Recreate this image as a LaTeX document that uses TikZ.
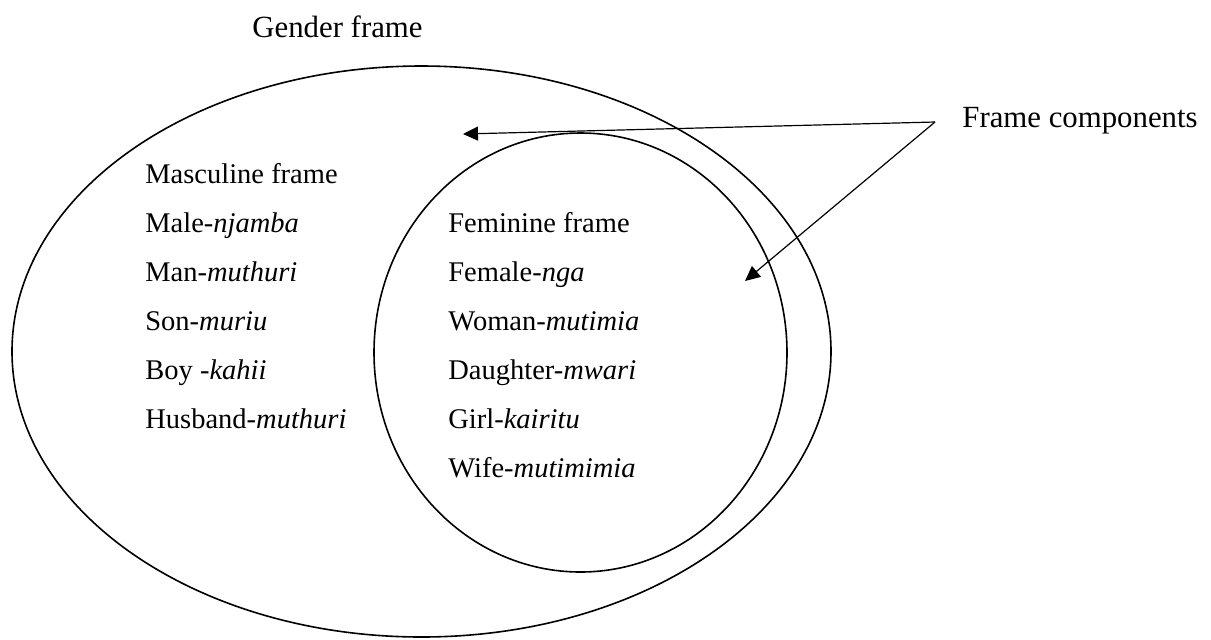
\documentclass[tikz,border=0pt]{standalone}
\usepackage{fontspec}
\setmainfont{Liberation Serif}
\usetikzlibrary{shapes.geometric,arrows.meta}
\begin{document}
\begin{tikzpicture}[x=0.5pt,y=-0.5pt,
  frame/.style={draw,ellipse,inner sep=0pt,line width=0.8pt},
  term/.style={anchor=base west,inner sep=0pt,font=\fontsize{14.25}{17}\selectfont},
  heading/.style={anchor=base west,inner sep=0pt,font=\fontsize{15.4}{18}\selectfont},
  pointer/.style={line width=0.6pt,-{Triangle[length=7.5pt,width=7pt]}}]
\useasboundingbox (0,0) rectangle (1211,639);

% the two frames
\node[frame,minimum width=409.5pt,minimum height=285.5pt] (gender) at (421.5,351.5) {};
\node[frame,minimum width=206.5pt,minimum height=219.5pt] (feminine) at (580.5,352.5) {};

% titles
\node[heading] (gtitle) at (252,37) {Gender frame};
\node[heading] (ctitle) at (962,127) {Frame components};

% masculine side
\node[term] (m0) at (145,183) {Masculine frame};
\node[term] (m1) at (145,232) {Male-\textit{njamba}};
\node[term] (m2) at (145,281) {Man-\textit{muthuri}};
\node[term] (m3) at (145,330) {Son-\textit{muriu}};
\node[term] (m4) at (145,379) {Boy -\textit{kahii}};
\node[term] (m5) at (145,428) {Husband-\textit{muthuri}};

% feminine side
\node[term] (f0) at (448,232) {Feminine frame};
\node[term] (f1) at (448,281) {Female-\textit{nga}};
\node[term] (f2) at (448,330) {Woman-\textit{mutimia}};
\node[term] (f3) at (448,379) {Daughter-\textit{mwari}};
\node[term] (f4) at (448,428) {Girl-\textit{kairitu}};
\node[term] (f5) at (448,477) {Wife-\textit{mutimimia}};

% pointers from the label to each component
\coordinate (joint) at (935,122);
\coordinate (outerpt) at (463,134);
\coordinate (innerpt) at (745,281);
\draw[pointer] (joint) -- (outerpt);
\draw[pointer] (joint) -- (innerpt);
\end{tikzpicture}
\end{document}
